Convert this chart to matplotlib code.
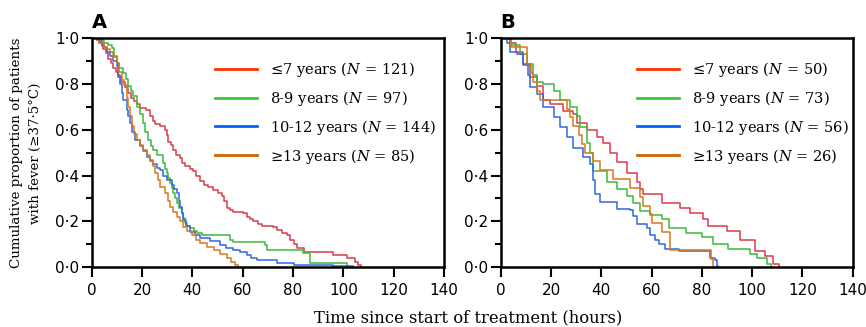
import matplotlib
matplotlib.use("Agg")
import matplotlib.pyplot as plt
from matplotlib.lines import Line2D
from matplotlib.ticker import MultipleLocator

plt.rcParams['font.family'] = ['DejaVu Sans']
plt.rcParams['mathtext.fontset'] = 'dejavuserif'

# ---- data (time in hours, proportion still febrile) ----
labels_a = ['≤7 years ($N$ = 121)', '8-9 years ($N$ = 97)',
            '10-12 years ($N$ = 144)', '≥13 years ($N$ = 85)']
labels_b = ['≤7 years ($N$ = 50)', '8-9 years ($N$ = 73)',
            '10-12 years ($N$ = 56)', '≥13 years ($N$ = 26)']
curve_colors = ['#dc3a4a', '#3cb93c', '#2f66e6', '#d8761e']
legend_colors = ['#ff3300', '#33cc33', '#0066ff', '#cc6600']

a_red_t = [0, 2, 3, 4, 4.5, 5.5, 6.5, 7.5, 8.5, 9.5, 10.5, 11.8, 13.1, 14.5, 15.8, 16.8,
           17.8, 19.2, 21.7, 23.1, 24.2, 25, 27, 29, 29.8, 30.4, 31.5, 32.3, 33.6, 35, 36,
           37, 39, 40.4, 41.5, 43, 44.5, 46.4, 48.3, 50, 51.7, 52.5, 53.7, 55, 56.3, 60.3,
           61.6, 63, 64.2, 66, 67.6, 72.2, 73.6, 75.5, 77.6, 78.9, 80.3, 81.5, 84.2, 96,
           101.4, 104.7, 106, 107]
a_red_p = [1.0, 0.99, 0.98, 0.967, 0.95, 0.935, 0.91, 0.89, 0.87, 0.85, 0.83, 0.81, 0.786,
           0.76, 0.74, 0.725, 0.713, 0.695, 0.687, 0.66, 0.64, 0.623, 0.615, 0.60, 0.575,
           0.547, 0.535, 0.51, 0.49, 0.475, 0.455, 0.44, 0.43, 0.42, 0.40, 0.375, 0.36,
           0.35, 0.337, 0.325, 0.31, 0.29, 0.26, 0.25, 0.243, 0.237, 0.22, 0.21, 0.203,
           0.19, 0.18, 0.177, 0.163, 0.15, 0.141, 0.119, 0.10, 0.083, 0.068, 0.054, 0.039,
           0.025, 0.01, 0.0]

a_grn_t = [0, 3, 5, 6.5, 8, 9, 9.9, 11, 12.6, 13.5, 14.6, 15.5, 16.5, 17.9, 19, 20.5,
           21.3, 22.5, 23.5, 24.5, 25.9, 28.5, 29.2, 29.8, 30.5, 31.1, 31.8, 32.5, 33.1,
           33.8, 34.8, 35.8, 36.4, 37.1, 38, 39.1, 40.5, 41.8, 43.8, 55, 56.3, 68.9, 69.6,
           84, 86.8, 101.5]
a_grn_p = [1.0, 0.99, 0.98, 0.97, 0.956, 0.92, 0.89, 0.87, 0.847, 0.82, 0.789, 0.77,
           0.745, 0.70, 0.67, 0.629, 0.59, 0.556, 0.527, 0.51, 0.49, 0.454, 0.43, 0.41,
           0.39, 0.367, 0.345, 0.323, 0.30, 0.28, 0.26, 0.236, 0.215, 0.192, 0.18, 0.17,
           0.16, 0.151, 0.141, 0.119, 0.11, 0.097, 0.076, 0.061, 0.017, 0.0]

a_blu_t = [0, 2, 3.3, 4.2, 5, 6, 7.3, 8.5, 9.9, 10.6, 11.3, 12, 12.6, 13.9, 14.5, 15.2,
           16.2, 17.2, 19.2, 20.5, 21.9, 23.2, 24.5, 26, 27.2, 28.5, 29.8, 31.8, 32.8, 33.8,
           34.5, 35.1, 35.8, 36.4, 37.5, 39.1, 41, 43, 47, 51, 53.5, 56.3, 59, 61.6, 63.5,
           65.6, 73.6, 80.2, 96, 104]
a_blu_p = [1.0, 0.993, 0.986, 0.97, 0.96, 0.94, 0.92, 0.90, 0.876, 0.84, 0.80, 0.76, 0.73,
           0.687, 0.66, 0.629, 0.59, 0.556, 0.527, 0.505, 0.483, 0.465, 0.45, 0.435, 0.425,
           0.40, 0.381, 0.359, 0.34, 0.323, 0.29, 0.265, 0.235, 0.207, 0.18, 0.155, 0.14,
           0.127, 0.115, 0.097, 0.085, 0.076, 0.065, 0.054, 0.042, 0.032, 0.02, 0.01, 0.005,
           0.0]

a_org_t = [0, 2, 3, 5, 6, 7.3, 8.5, 9.9, 11, 11.9, 13, 13.9, 14.2, 14.6, 15.3, 15.9, 17,
           17.9, 19.2, 20.5, 22.1, 23.2, 24.2, 25.2, 26.2, 27.2, 29.2, 30.2, 31.1, 32.5,
           33.8, 35, 36.4, 38, 39.8, 41.5, 43, 46, 48.4, 51, 53.7, 55.5, 57, 58]
a_org_p = [1.0, 0.99, 0.98, 0.96, 0.95, 0.94, 0.915, 0.89, 0.85, 0.818, 0.795, 0.774,
           0.74, 0.70, 0.66, 0.614, 0.58, 0.556, 0.535, 0.512, 0.49, 0.468, 0.44, 0.41,
           0.38, 0.352, 0.323, 0.29, 0.265, 0.24, 0.22, 0.20, 0.177, 0.16, 0.141, 0.12,
           0.105, 0.09, 0.076, 0.06, 0.039, 0.025, 0.01, 0.0]

b_red_t = [0, 3.7, 6, 9, 11.7, 14.3, 17, 19.6, 24.9, 28.9, 30.2, 34.2, 38.2, 40.8, 43.5,
           46.1, 50.1, 54.1, 55.4, 56.7, 64.0, 71.3, 75.3, 80.6, 82.5, 89.9, 95.2, 101.2,
           105.2, 108.4, 110.5]
b_red_p = [1.0, 0.98, 0.94, 0.88, 0.83, 0.79, 0.73, 0.71, 0.68, 0.67, 0.63, 0.60, 0.57,
           0.54, 0.50, 0.46, 0.41, 0.37, 0.34, 0.32, 0.28, 0.26, 0.237, 0.21, 0.18, 0.158,
           0.12, 0.07, 0.05, 0.013, 0.0]

b_grn_t = [0, 4, 7.6, 10.3, 13, 14.3, 17, 21, 23.6, 27.6, 30.2, 31.6, 34.2, 35.5, 36.8,
           42.2, 46.1, 50.1, 52.8, 55.4, 59.5, 64, 67, 73.5, 80, 84.6, 90.5, 99.2, 101.8,
           105.8, 107.4]
b_grn_p = [1.0, 0.97, 0.93, 0.885, 0.84, 0.81, 0.80, 0.77, 0.73, 0.70, 0.66, 0.61, 0.54,
           0.50, 0.42, 0.37, 0.34, 0.31, 0.28, 0.245, 0.23, 0.21, 0.17, 0.15, 0.13, 0.10,
           0.078, 0.057, 0.04, 0.013, 0.0]

b_blu_t = [0, 2.4, 3.7, 6.3, 9, 11, 11.7, 14.3, 17, 21, 23.6, 26.3, 28.9, 32.8, 35.5,
           36.8, 37.5, 39.5, 46.1, 51.4, 52.8, 54.1, 58.1, 59.5, 61.5, 62.8, 65.5, 70.8,
           83.3, 85.3, 85.9, 86.4]
b_blu_p = [1.0, 0.98, 0.94, 0.93, 0.885, 0.84, 0.785, 0.757, 0.70, 0.655, 0.61, 0.57,
           0.52, 0.48, 0.45, 0.38, 0.32, 0.285, 0.255, 0.25, 0.225, 0.19, 0.17, 0.14, 0.12,
           0.10, 0.078, 0.07, 0.04, 0.03, 0.006, 0.0]

b_org_t = [0, 4, 10.3, 12, 13, 14.3, 15.6, 26.3, 27.5, 28.9, 31, 32.5, 33.5, 36.8, 39.5,
           44.8, 51.4, 55.4, 56.7, 59.4, 60, 64, 67.3, 83.5, 84.3]
b_org_p = [1.0, 0.962, 0.885, 0.846, 0.808, 0.769, 0.731, 0.692, 0.654, 0.615, 0.577,
           0.538, 0.50, 0.462, 0.423, 0.385, 0.346, 0.308, 0.269, 0.231, 0.192, 0.154,
           0.077, 0.038, 0.0]

curves_a = [(a_red_t, a_red_p), (a_grn_t, a_grn_p), (a_blu_t, a_blu_p), (a_org_t, a_org_p)]
curves_b = [(b_red_t, b_red_p), (b_grn_t, b_grn_p), (b_blu_t, b_blu_p), (b_org_t, b_org_p)]

x_ticks = [0, 20, 40, 60, 80, 100, 120, 140]
y_ticks = [0.0, 0.2, 0.4, 0.6, 0.8, 1.0]
y_ticklabels = ['0·0', '0·2', '0·4', '0·6', '0·8', '1·0']

serif = 'DejaVu Serif'

fig = plt.figure(figsize=(8.66, 3.27), dpi=100)
ax_a = fig.add_axes([0.1059, 0.1826, 0.4068, 0.7013])
ax_b = fig.add_axes([0.5782, 0.1826, 0.4065, 0.7013])


def panel(ax, curves, labels, leg_x, letter):
    for (t, p), c in zip(curves, curve_colors):
        ax.step(t, p, where='post', color=c, lw=1.1)
    ax.set_xlim(0, 140)
    ax.set_ylim(0, 1.0)
    ax.set_xticks(x_ticks)
    ax.set_yticks(y_ticks)
    ax.set_yticklabels(y_ticklabels)
    ax.yaxis.set_minor_locator(MultipleLocator(0.1))
    for s in ax.spines.values():
        s.set_linewidth(1.8)
    ax.tick_params(which='major', length=7, width=1.5, labelsize=11, direction='out', pad=2)
    ax.tick_params(which='minor', length=4, width=1.5, direction='out')
    ax.tick_params(axis='x', pad=4)
    handles = [Line2D([], [], color=c, lw=2.0) for c in legend_colors]
    ax.legend(handles, labels, loc='upper left', bbox_to_anchor=(leg_x, 0.905),
              frameon=False, borderpad=0, borderaxespad=0, handlelength=2.9,
              handletextpad=0.9, labelspacing=0.68, prop={'family': serif, 'size': 10.5})
    ax.text(0, 1.025, letter, transform=ax.transAxes, ha='left', va='bottom',
            fontsize=14, fontweight='bold')


panel(ax_a, curves_a, labels_a, 0.35, 'A')
panel(ax_b, curves_b, labels_b, 0.386, 'B')

fig.text(0.030, 0.532, 'Cumulative proportion of patients\nwith fever (≥37·5°C)',
         rotation=90, ha='center', va='center', family=serif, fontsize=9.6, linespacing=1.5)
fig.text(0.540, 0.028, 'Time since start of treatment (hours)', ha='center', va='center',
         family=serif, fontsize=11.8)

fig.savefig('out.png', dpi=100)
